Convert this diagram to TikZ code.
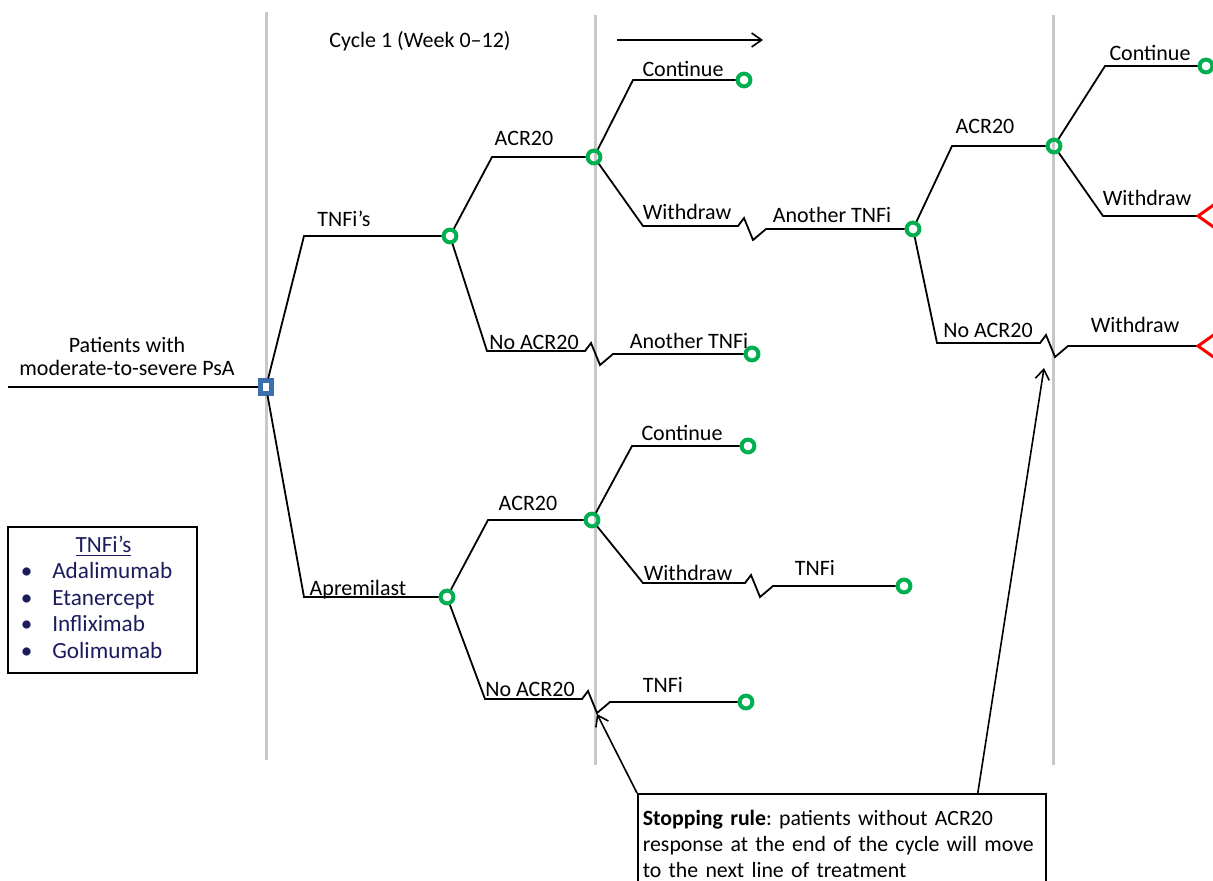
\documentclass[tikz,border=0pt]{standalone}
\usepackage{fontspec}
\setmainfont{Carlito}
\usetikzlibrary{arrows.meta}
\definecolor{chgreen}{HTML}{00B050}
\definecolor{decblue}{HTML}{3B70AE}
\definecolor{legnavy}{HTML}{1C1C5C}
\definecolor{phasegray}{HTML}{C8C8C8}

\begin{document}
\begin{tikzpicture}[x=0.5pt,y=-0.5pt,
  phase/.style={draw=phasegray,line width=1.5pt},
  branch/.style={line width=0.9pt},
  chance/.style={circle,draw=chgreen,line width=2pt,minimum size=6.4pt,inner sep=0pt},
  decision/.style={rectangle,draw=decblue,fill=white,line width=2.2pt,minimum width=5.6pt,minimum height=6.4pt,inner sep=0pt},
  absorb/.style={draw=red,line width=1.5pt,line join=miter},
  lbl/.style={anchor=base,inner sep=0pt,font=\fontsize{11}{13}\selectfont},
  brk/.style={insert path={-- ++(6,-8) -- ++(9,22) -- ++(13,-11)}},
  ptr/.style={-{Straight Barb[length=5pt,width=7pt]},line width=0.8pt}]
  \clip (0,0) rectangle (1213,880);
  % cycle boundaries
  \draw[phase] (266,12) -- (266,760);
  \draw[phase] (595,15) -- (595,765);
  \draw[phase] (1053,15) -- (1053,765);
  \node[lbl] (title) at (420,47) {Cycle 1 (Week 0--12)};
  \coordinate (arrS) at (617,40);
  \coordinate (arrE) at (763,40);
  \draw[ptr] (arrS) -- (arrE);

  % tree nodes
  \coordinate (start) at (8,387);
  \node[decision] (root) at (266,387) {};
  \node[chance] (tnf) at (450,236) {};
  \node[chance] (apr) at (447,597) {};
  \node[chance] (tnfR) at (594,157) {};
  \node[chance] (tnfN) at (752,354) {};
  \node[chance] (tnfRC) at (744,80) {};
  \node[chance] (tnf2) at (913,229) {};
  \node[chance] (tnf2R) at (1054,146) {};
  \node[chance] (tnf2RC) at (1206,66) {};
  \coordinate (tnf2RW) at (1198,216);
  \coordinate (tnf2N) at (1198,346);
  \node[chance] (aprR) at (592,520) {};
  \node[chance] (aprRC) at (748,446) {};
  \node[chance] (aprRW) at (904,586) {};
  \node[chance] (aprN) at (746,702) {};

  % branches
  \draw[branch] (start) -- (root);
  \draw[branch] (root) -- (304,236) -- (tnf);
  \draw[branch] (root) -- (304,597) -- (apr);
  \draw[branch] (tnf) -- (492,157) -- (tnfR);
  \draw[branch] (tnf) -- (487,351) -- (585,351) [brk] -- (tnfN);
  \draw[branch] (tnfR) -- (633,80) -- (tnfRC);
  \draw[branch] (tnfR) -- (643,226) -- (738,226) [brk] -- (tnf2);
  \draw[branch] (tnf2) -- (952,146) -- (tnf2R);
  \draw[branch] (tnf2) -- (937,343) -- (1040,343) [brk] -- (tnf2N);
  \draw[branch] (tnf2R) -- (1105,66) -- (tnf2RC);
  \draw[branch] (tnf2R) -- (1103,216) -- (tnf2RW);
  \draw[branch] (apr) -- (488,520) -- (aprR);
  \draw[branch] (apr) -- (485,699) -- (582,699) [brk] -- (aprN);
  \draw[branch] (aprR) -- (632,446) -- (aprRC);
  \draw[branch] (aprR) -- (643,583) -- (745,583) [brk] -- (aprRW);
  \draw[absorb] (tnf2RW) -- ++(24,-17) -- ++(0,34) -- cycle;
  \draw[absorb] (tnf2N) -- ++(24,-17) -- ++(0,34) -- cycle;

  % labels
  \node[lbl] (lPat) at (127,352) {Patients with};
  \node[lbl] (lPat2) at (127,375) {moderate-to-severe PsA};
  \node[lbl] (lTnf) at (344,226) {TNFi’s};
  \node[lbl] (lApr) at (358,595) {Apremilast};
  \node[lbl] (lR1) at (524,145) {ACR20};
  \node[lbl] (lN1) at (534,349) {No ACR20};
  \node[lbl] (lA1) at (689,348) {Another TNFi};
  \node[lbl] (lC1) at (683,76) {Continue};
  \node[lbl] (lW1) at (687,219) {Withdraw};
  \node[lbl] (lA2) at (832,222) {Another TNFi};
  \node[lbl] (lR2) at (985,133) {ACR20};
  \node[lbl] (lN2) at (988,337) {No ACR20};
  \node[lbl] (lW2) at (1135,332) {Withdraw};
  \node[lbl] (lC2) at (1150,60) {Continue};
  \node[lbl] (lW3) at (1147,205) {Withdraw};
  \node[lbl] (lR3) at (528,510) {ACR20};
  \node[lbl] (lN3) at (530,696) {No ACR20};
  \node[lbl] (lT1) at (663,692) {TNFi};
  \node[lbl] (lC3) at (682,440) {Continue};
  \node[lbl] (lW4) at (688,580) {Withdraw};
  \node[lbl] (lT2) at (815,575) {TNFi};

  % legend
  \node[draw,line width=0.8pt,minimum width=94.5pt,minimum height=73pt,inner sep=0pt,
        text=legnavy,font=\fontsize{11.6}{13.3}\selectfont] (legend) at (102.5,600)
    {\begin{tabular}{@{}l@{\hspace{10pt}}l@{}}
      \multicolumn{2}{c}{\hspace{7pt}\underline{TNFi’s}}\\
      \textbullet & Adalimumab\\
      \textbullet & Etanercept\\
      \textbullet & Infliximab\\
      \textbullet & Golimumab
     \end{tabular}\kern6pt};

  % stopping rule
  \node[draw,line width=0.8pt,anchor=north west,align=left,text width=199pt,
        inner xsep=2.5pt,inner ysep=8pt,font=\fontsize{10.9}{13}\selectfont\frenchspacing] (rule) at (637,793)
    {\textbf{Stopping rule}: patients without ACR20\\
     response at the end of the cycle will move\\
     to the next line of treatment};
  \coordinate (stopA) at (597,714);
  \coordinate (stopB) at (1044,368);
  \draw[ptr] (rule.north west) -- (stopA);
  \draw[ptr] ([xshift=68pt]rule.north) -- (stopB);
\end{tikzpicture}
\end{document}
